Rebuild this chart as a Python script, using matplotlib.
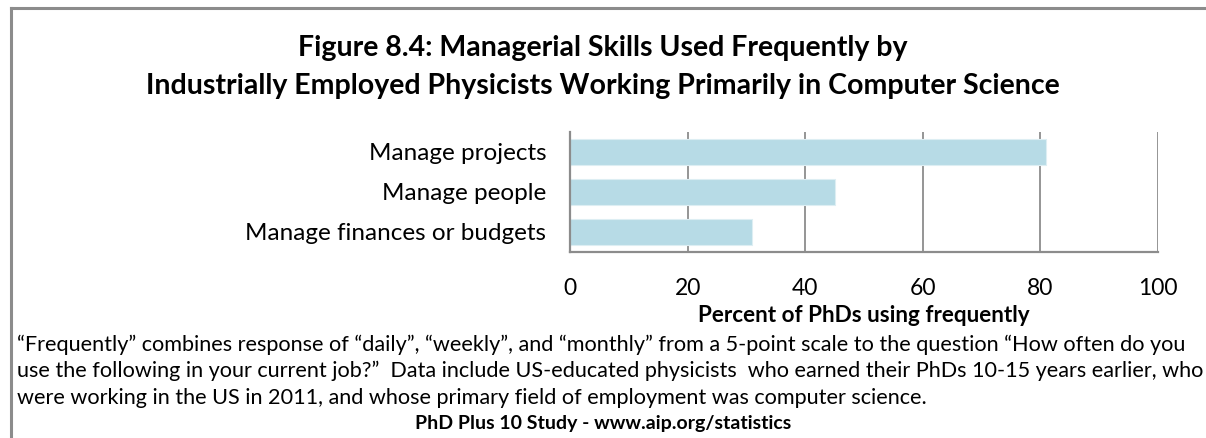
import matplotlib
matplotlib.use("Agg")
import matplotlib.pyplot as plt
from matplotlib.lines import Line2D

# data
skills = ["Manage projects", "Manage people", "Manage finances or budgets"]
percent = [81, 45, 31]
xticks = [0, 20, 40, 60, 80, 100]

title = ("Figure 8.4: Managerial Skills Used Frequently by\n"
         "Industrially Employed Physicists Working Primarily in Computer Science")
note = ("\u201cFrequently\u201d combines response of \u201cdaily\u201d, \u201cweekly\u201d, and \u201cmonthly\u201d "
        "from a 5-point scale to the question \u201cHow often do you\n"
        "use the following in your current job?\u201d  Data include US-educated physicists  "
        "who earned their PhDs 10-15 years earlier, who\n"
        "were working in the US in 2011, and whose primary field of employment was computer science.")
source = "PhD Plus 10 Study - www.aip.org/statistics"

plt.rcParams['font.family'] = ['Lato', 'DejaVu Sans']
W, H = 1206, 438
fig = plt.figure(figsize=(W / 100, H / 100), dpi=100)

# plot area in pixels: left 570, right 1158, top 132, bottom 252
ax = fig.add_axes([570 / W, 1 - 252 / H, 588 / W, 120 / H])
ypos = list(range(len(skills)))
ax.barh(ypos, percent, height=0.67, color="#B7DBE6", edgecolor="#DDEEF3", linewidth=0.8, zorder=2)
ax.set_ylim(2.5, -0.5)
ax.set_xlim(0, 100)
ax.set_yticks(ypos)
ax.set_yticklabels(skills, fontsize=17.5)
ax.set_xticks(xticks)
ax.set_xticklabels([str(t) for t in xticks], fontsize=16.5)
ax.tick_params(axis='y', length=0, pad=17)
ax.tick_params(axis='x', length=0, pad=19)
for t in xticks[1:]:
    ax.axvline(t, color="#8C8C8C", linewidth=1.3, zorder=1)
for s in ["top", "right"]:
    ax.spines[s].set_visible(False)
for s in ["left", "bottom"]:
    ax.spines[s].set_color("#8C8C8C")
    ax.spines[s].set_linewidth(1.6)
ax.set_xlabel("Percent of PhDs using frequently", fontsize=16.2, fontweight="bold", labelpad=4)

fig.text(603 / W, 1 - 67 / H, title, ha="center", va="center", fontsize=20.5,
         fontweight="bold", linespacing=1.6)
fig.text(17 / W, 1 - 371 / H, note, ha="left", va="center", fontsize=15.6, linespacing=1.38)
fig.text(603 / W, 1 - 423 / H, source, ha="center", va="center", fontsize=14, fontweight="bold")

# outer frame (top and left edges)
fig.add_artist(Line2D([11 / W, 1], [1 - 8 / H, 1 - 8 / H], color="#8C8C8C", linewidth=2.2))
fig.add_artist(Line2D([11 / W, 11 / W], [0, 1 - 8 / H], color="#8C8C8C", linewidth=2.2))

fig.savefig("out.png", dpi=100)
